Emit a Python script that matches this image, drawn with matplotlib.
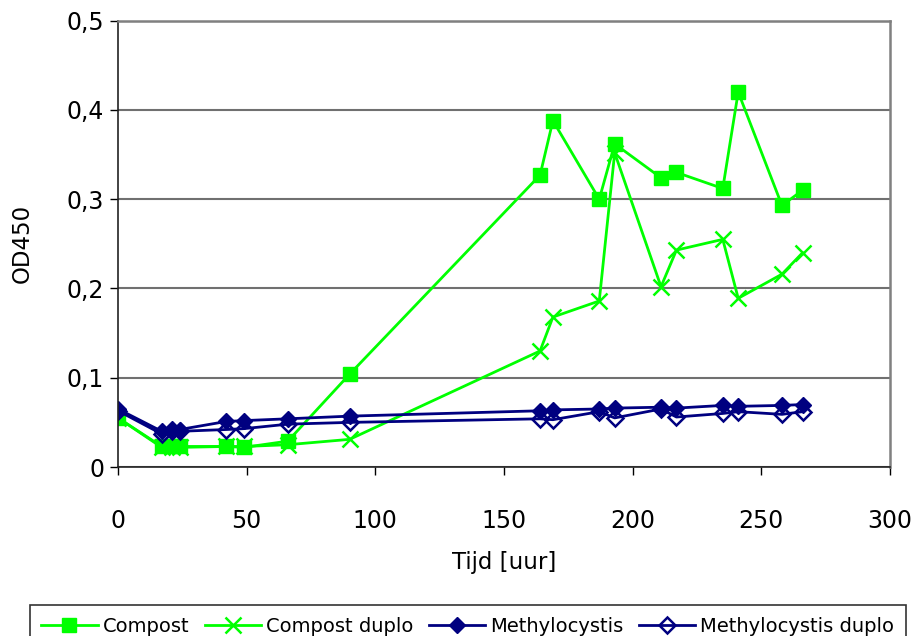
import matplotlib.pyplot as plt

# meetmomenten (uur) en OD450 per reeks
tijd = [0, 17, 21, 24, 42, 49, 66, 90, 164, 169, 187, 193, 211, 217, 235, 241, 258, 266]
compost = [0.055, 0.023, 0.023, 0.023, 0.023, 0.022, 0.029, 0.104, 0.327, 0.388,
           0.300, 0.362, 0.324, 0.330, 0.312, 0.420, 0.293, 0.310]
compost_duplo = [0.055, 0.022, 0.022, 0.022, 0.023, 0.023, 0.025, 0.031, 0.130, 0.168,
                 0.186, 0.352, 0.202, 0.243, 0.255, 0.189, 0.216, 0.240]
methylo = [0.065, 0.040, 0.043, 0.042, 0.051, 0.052, 0.054, 0.057, 0.063, 0.064,
           0.065, 0.066, 0.067, 0.066, 0.069, 0.068, 0.069, 0.070]
methylo_duplo = [0.063, 0.037, 0.040, 0.040, 0.042, 0.043, 0.048, 0.050, 0.054, 0.053,
                 0.062, 0.055, 0.065, 0.056, 0.060, 0.062, 0.059, 0.062]

yticks = [0, 0.1, 0.2, 0.3, 0.4, 0.5]
ytick_labels = ['0', '0,1', '0,2', '0,3', '0,4', '0,5']
xticks = [0, 50, 100, 150, 200, 250, 300]

plt.rcParams['font.family'] = 'DejaVu Sans'

fig = plt.figure(figsize=(9.17, 6.36), dpi=100)
ax = fig.add_axes([0.1287, 0.2657, 0.8419, 0.7018])

green = '#00ff00'
navy = '#000080'
ax.plot(tijd, compost, color=green, lw=2, marker='s', ms=10, label='Compost')
ax.plot(tijd, compost_duplo, color=green, lw=2, marker='x', ms=11, mew=1.8,
        label='Compost duplo')
ax.plot(tijd, methylo, color=navy, lw=2, marker='D', ms=8, label='Methylocystis')
ax.plot(tijd, methylo_duplo, color=navy, lw=2, marker='D', ms=8, mfc='none',
        mew=1.8, label='Methylocystis duplo')

ax.set_xlim(0, 300)
ax.set_ylim(0, 0.5)
ax.set_xticks(xticks)
ax.set_yticks(yticks)
ax.set_yticklabels(ytick_labels)
ax.yaxis.grid(True, color='#707070', lw=1.5)
ax.set_axisbelow(True)

for side in ['top', 'right']:
    ax.spines[side].set_color('#808080')
    ax.spines[side].set_linewidth(1.8)
for side in ['left', 'bottom']:
    ax.spines[side].set_color('#222222')
    ax.spines[side].set_linewidth(1.2)

ax.tick_params(axis='y', length=6, width=1, labelsize=17, pad=4)
ax.tick_params(axis='x', length=6, width=1, labelsize=17, pad=24)

ax.set_xlabel('Tijd [uur]', fontsize=16.5)
ax.set_ylabel('OD450', fontsize=16.5)
ax.xaxis.set_label_coords(0.5, -0.215)
ax.xaxis.label.set_va('center')
ax.yaxis.set_label_coords(-0.124, 0.5)
ax.yaxis.label.set_va('center')

leg = fig.legend(loc='upper center', bbox_to_anchor=(0.510, 1 - 605 / 636), ncol=4,
                 fontsize=14, frameon=True, fancybox=False, edgecolor='black',
                 handlelength=2.9, handletextpad=0.25, columnspacing=0.8,
                 borderpad=0.6, borderaxespad=0)
leg.get_frame().set_linewidth(1.2)

fig.savefig('out.png', dpi=100)
